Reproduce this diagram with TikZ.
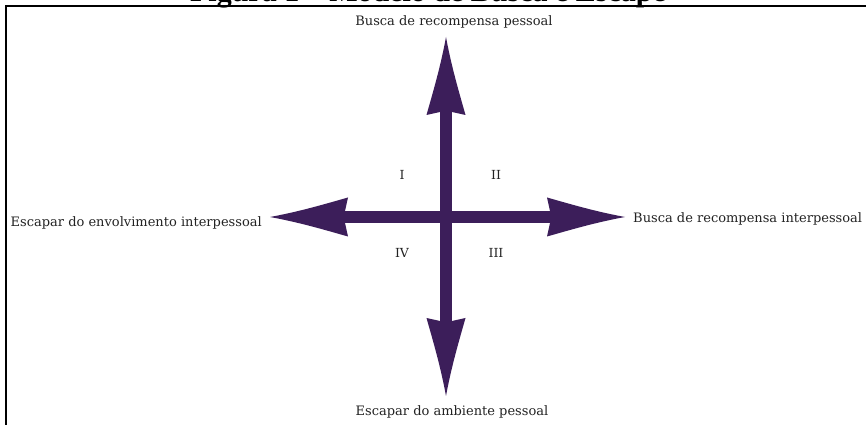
\documentclass[tikz,border=0pt]{standalone}
\usepackage{fontspec}
\setmainfont{DejaVu Serif}
\newfontfamily\titlefont{Liberation Serif}
\definecolor{arrowc}{RGB}{60,30,90}
\definecolor{txt}{RGB}{35,35,35}
\begin{document}
\begin{tikzpicture}[x=1pt,y=1pt,
  lbl/.style={inner sep=0pt,text=txt,font=\fontsize{13}{15}\selectfont},
  quad/.style={inner sep=0pt,text=txt,font=\fontsize{12.5}{14}\selectfont},
  shaft/.style={draw=arrowc,line width=12.5pt,shorten >=73pt},
  frame/.style={draw=black,line width=2pt},
  ahead/.pic={\fill[arrowc] (0,0) .. controls (-30,5.5) and (-55,13) .. (-78,19.5) -- (-75,6) -- (-75,-6) -- (-78,-19.5) .. controls (-55,-13) and (-30,-5.5) .. (0,0) -- cycle;}
]
\useasboundingbox (0,0) rectangle (868,425);
\fill[white] (0,0) rectangle (868,425);
% frame
\coordinate (f1) at (6,0);
\coordinate (f2) at (6,419);
\coordinate (f3) at (866,419);
\draw[frame] (f1) -- (f2) -- (f3);
% title (cut off at the top edge, as in the reference)
\node[anchor=base,inner sep=0pt,font=\titlefont\bfseries\fontsize{30}{32}\selectfont] (title) at (428,423.5) {Figura 1 – Modelo de Busca e Escape};
% arrows
\coordinate (c) at (446,208);
\coordinate (tt) at (446,388);
\coordinate (tb) at (446,29);
\coordinate (tl) at (270,208);
\coordinate (tr) at (625,208);
\draw[shaft] (c) -- (tt);
\draw[shaft] (c) -- (tb);
\draw[shaft] (c) -- (tl);
\draw[shaft] (c) -- (tr);
\fill[arrowc] (439.75,201.75) rectangle (452.25,214.25);
\pic[rotate=90] at (tt) {ahead};
\pic[rotate=270] at (tb) {ahead};
\pic[rotate=180] at (tl) {ahead};
\pic at (tr) {ahead};
% labels
\node[lbl,anchor=base] (top) at (454,399) {Busca de recompensa pessoal};
\node[lbl,anchor=base] (bot) at (452,9) {Escapar do ambiente pessoal};
\node[lbl,anchor=base east] (left) at (262,198) {Escapar do envolvimento interpessoal};
\node[lbl,anchor=base west] (right) at (633,202) {Busca de recompensa interpessoal};
% quadrants
\node[quad] (q1) at (402,250) {I};
\node[quad] (q2) at (496,250) {II};
\node[quad] (q3) at (496,172) {III};
\node[quad] (q4) at (402,172) {IV};
\end{tikzpicture}
\end{document}
